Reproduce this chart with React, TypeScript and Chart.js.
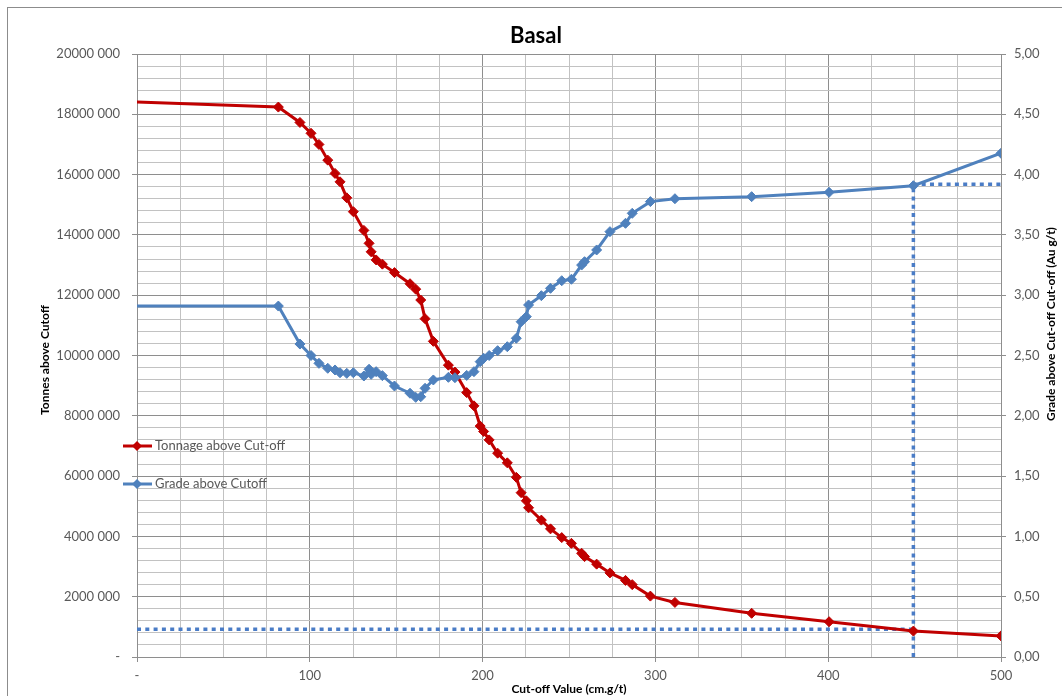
import React, { useEffect, useRef } from "react";
import { Chart, registerables } from "chart.js";

Chart.register(...registerables);

// Cut-off values (cm.g/t)
const cutoffs = [
  0, 81.8, 94.3, 100.7, 105.3, 110.4, 114.6, 117.5, 121.4, 125.2,
  131.3, 134.3, 135.5, 138.4, 142.0, 149.0, 158.0, 161.3, 164.2, 166.7,
  171.5, 180.2, 184.0, 190.8, 195.0, 198.6, 200.6, 203.8, 208.7,
  214.3, 219.5, 222.3, 225.3, 226.6, 234.0, 239.3, 245.8, 251.4, 257.3,
  259.0, 266.0, 273.7, 282.7, 286.6, 297.1, 311.3, 355.7, 400.5, 449.3, 500,
];

// Tonnage above cut-off (t)
const tonnage = [
  18410000, 18240000, 17730000, 17370000, 17000000, 16480000, 16040000, 15760000, 15230000, 14770000,
  14150000, 13720000, 13440000, 13170000, 13030000, 12750000, 12380000, 12200000, 11840000, 11220000,
  10470000, 9680000, 9450000, 8770000, 8330000, 7660000, 7480000, 7200000, 6760000,
  6440000, 5960000, 5450000, 5180000, 4950000, 4540000, 4250000, 3960000, 3770000, 3440000,
  3330000, 3080000, 2790000, 2540000, 2400000, 2020000, 1810000, 1450000, 1170000, 860000, 700000,
];

// Grade above cut-off (Au g/t)
const grade = [
  2.91, 2.91, 2.595, 2.5, 2.435, 2.394, 2.38, 2.357, 2.352, 2.357,
  2.33, 2.386, 2.344, 2.366, 2.333, 2.247, 2.187, 2.153, 2.158, 2.228,
  2.297, 2.319, 2.316, 2.335, 2.366, 2.449, 2.477, 2.5, 2.54,
  2.573, 2.643, 2.78, 2.822, 2.919, 2.996, 3.057, 3.12, 3.132, 3.25,
  3.278, 3.375, 3.527, 3.596, 3.679, 3.776, 3.8, 3.817, 3.853, 3.908, 4.177,
];

// Reference (dotted) guide lines
const refCutoff = 449.3;
const refTonnage = 920000;
const refGrade = 3.92;

// Tick labels
const leftTickLabels = ["-", "2000 000", "4000 000", "6000 000", "8000 000", "10000 000", "12000 000", "14000 000", "16000 000", "18000 000", "20000 000"];
const rightTickLabels = ["0,00", "0,50", "1,00", "1,50", "2,00", "2,50", "3,00", "3,50", "4,00", "4,50", "5,00"];
const xTickLabels = ["-", "100", "200", "300", "400", "500"];

const seriesNames = ["Tonnage above Cut-off", "Grade above Cutoff"];
const chartTitle = "Basal";
const xTitle = "Cut-off Value (cm.g/t)";
const leftTitle = "Tonnes above Cutoff";
const rightTitle = "Grade above Cut-off Cut-off (Au g/t)";

const RED = "#c00000";
const BLUE = "#4f81bd";
const DOT = "#4a7cc6";
const FONT = "Lato, 'Open Sans', sans-serif";
const TEXT = "#595959";

export default function App() {
  const ref = useRef<HTMLCanvasElement | null>(null);

  useEffect(() => {
    const canvas = ref.current;
    if (!canvas) return;

    const decorPlugin = {
      id: "decor",
      beforeDraw(chart: any) {
        const ctx = chart.ctx;
        ctx.save();
        ctx.fillStyle = "#ffffff";
        ctx.fillRect(0, 0, chart.width, chart.height);
        ctx.strokeStyle = "#8c8c8c";
        ctx.lineWidth = 1;
        ctx.strokeRect(7.5, 7.5, 1100, 800);
        ctx.restore();
      },
      afterDraw(chart: any) {
        const ctx = chart.ctx;
        const ca = chart.chartArea;
        ctx.save();
        // Title
        ctx.fillStyle = "#000000";
        ctx.font = `bold 22px ${FONT}`;
        ctx.textAlign = "center";
        ctx.textBaseline = "middle";
        ctx.fillText(chartTitle, 536, 36);
        // Axis titles
        ctx.font = `bold 12px ${FONT}`;
        ctx.fillStyle = "#000000";
        ctx.fillText(xTitle, (ca.left + ca.right) / 2, 689);
        ctx.save();
        ctx.translate(45, 360);
        ctx.rotate(-Math.PI / 2);
        ctx.fillText(leftTitle, 0, 0);
        ctx.restore();
        ctx.save();
        ctx.translate(1051, 324);
        ctx.rotate(-Math.PI / 2);
        ctx.fillText(rightTitle, 0, 0);
        ctx.restore();
        // Legend
        const entries = [
          { color: RED, y: 446, label: seriesNames[0] },
          { color: BLUE, y: 484, label: seriesNames[1] },
        ];
        ctx.font = `13px ${FONT}`;
        ctx.textAlign = "left";
        for (const e of entries) {
          ctx.strokeStyle = e.color;
          ctx.lineWidth = 3;
          ctx.beginPath();
          ctx.moveTo(123, e.y);
          ctx.lineTo(152, e.y);
          ctx.stroke();
          ctx.fillStyle = e.color;
          ctx.beginPath();
          ctx.moveTo(137 - 5, e.y);
          ctx.lineTo(137, e.y - 5);
          ctx.lineTo(137 + 5, e.y);
          ctx.lineTo(137, e.y + 5);
          ctx.closePath();
          ctx.fill();
          ctx.fillStyle = TEXT;
          ctx.fillText(e.label, 155, e.y);
        }
        ctx.restore();
      },
    };

    const diamondRadius = (c: any) => (c.dataIndex === 0 ? 0 : 5);

    const chart = new Chart(canvas, {
      type: "line",
      data: {
        datasets: [
          {
            label: seriesNames[1],
            data: cutoffs.map((x, i) => ({ x, y: grade[i] })),
            yAxisID: "y2",
            borderColor: BLUE,
            backgroundColor: BLUE,
            borderWidth: 3,
            pointStyle: "rectRot",
            pointRadius: diamondRadius,
            pointBorderWidth: 1,
            pointBorderColor: BLUE,
            tension: 0,
            order: 0,
          },
          {
            label: seriesNames[0],
            data: cutoffs.map((x, i) => ({ x, y: tonnage[i] })),
            yAxisID: "y",
            borderColor: RED,
            backgroundColor: RED,
            borderWidth: 3,
            pointStyle: "rectRot",
            pointRadius: diamondRadius,
            pointBorderWidth: 1,
            pointBorderColor: RED,
            tension: 0,
            order: 1,
          },
          {
            label: "ref-h1",
            data: [{ x: 0, y: refTonnage }, { x: refCutoff, y: refTonnage }],
            yAxisID: "y",
            borderColor: DOT,
            borderWidth: 3.5,
            borderDash: [4, 4.3],
            borderCapStyle: "butt",
            pointRadius: 0,
            order: 2,
          },
          {
            label: "ref-v",
            data: [{ x: refCutoff, y: 0 }, { x: refCutoff, y: refGrade }],
            yAxisID: "y2",
            borderColor: DOT,
            borderWidth: 3.5,
            borderDash: [4, 4.3],
            pointRadius: 0,
            order: 2,
          },
          {
            label: "ref-h2",
            data: [{ x: refCutoff, y: refGrade }, { x: 500, y: refGrade }],
            yAxisID: "y2",
            borderColor: DOT,
            borderWidth: 3.5,
            borderDash: [4, 4.3],
            pointRadius: 0,
            order: 2,
          },
        ],
      },
      options: {
        responsive: false,
        animation: false,
        devicePixelRatio: 1,
        layout: { padding: { top: 54, left: 0, right: 0, bottom: 0 } },
        plugins: {
          legend: { display: false },
          title: { display: false },
          tooltip: { enabled: false },
        },
        scales: {
          x: {
            type: "linear",
            min: 0,
            max: 500,
            afterFit: (s: any) => {
              s.height = 53;
            },
            ticks: {
              stepSize: 25,
              autoSkip: false,
              maxRotation: 0,
              padding: 6,
              color: TEXT,
              font: { family: FONT, size: 13 },
              callback: (v: any) => (Number(v) % 100 === 0 ? xTickLabels[Number(v) / 100] : ""),
            },
            grid: {
              color: (c: any) => (c.tick && c.tick.value % 100 === 0 ? "#8e8e8e" : "#c2c2c2"),
              tickColor: (c: any) => (c.tick && c.tick.value % 100 === 0 ? "#8e8e8e" : "rgba(0,0,0,0)"),
              tickLength: 5,
              lineWidth: 1,
            },
            border: { color: "#8e8e8e" },
          },
          y: {
            type: "linear",
            position: "left",
            min: 0,
            max: 20000000,
            afterFit: (s: any) => {
              s.width = 137;
            },
            ticks: {
              stepSize: 400000,
              autoSkip: false,
              padding: 12,
              color: TEXT,
              font: { family: FONT, size: 13 },
              callback: (v: any) => (Number(v) % 2000000 === 0 ? leftTickLabels[Number(v) / 2000000] : ""),
            },
            grid: {
              color: (c: any) => (c.tick && c.tick.value % 2000000 === 0 ? "#8e8e8e" : "#c2c2c2"),
              tickColor: (c: any) => (c.tick && c.tick.value % 2000000 === 0 ? "#8e8e8e" : "rgba(0,0,0,0)"),
              tickLength: 5,
              lineWidth: 1,
            },
            border: { color: "#8e8e8e" },
          },
          y2: {
            type: "linear",
            position: "right",
            min: 0,
            max: 5,
            afterFit: (s: any) => {
              s.width = 61;
            },
            ticks: {
              stepSize: 0.5,
              autoSkip: false,
              padding: 8,
              color: TEXT,
              font: { family: FONT, size: 13 },
              callback: (v: any) => rightTickLabels[Math.round(Number(v) / 0.5)],
            },
            grid: {
              drawOnChartArea: false,
              tickColor: "#8e8e8e",
              tickLength: 5,
            },
            border: { color: "#8e8e8e" },
          },
        },
      },
      plugins: [decorPlugin],
    } as any);

    return () => chart.destroy();
  }, []);

  return (
    <div
      style={{
        position: "fixed",
        top: 0,
        left: 0,
        width: 1062,
        height: 696,
        overflow: "hidden",
        background: "#ffffff",
      }}
    >
      <canvas ref={ref} width={1062} height={710} style={{ display: "block", width: 1062, height: 710 }} />
    </div>
  );
}
